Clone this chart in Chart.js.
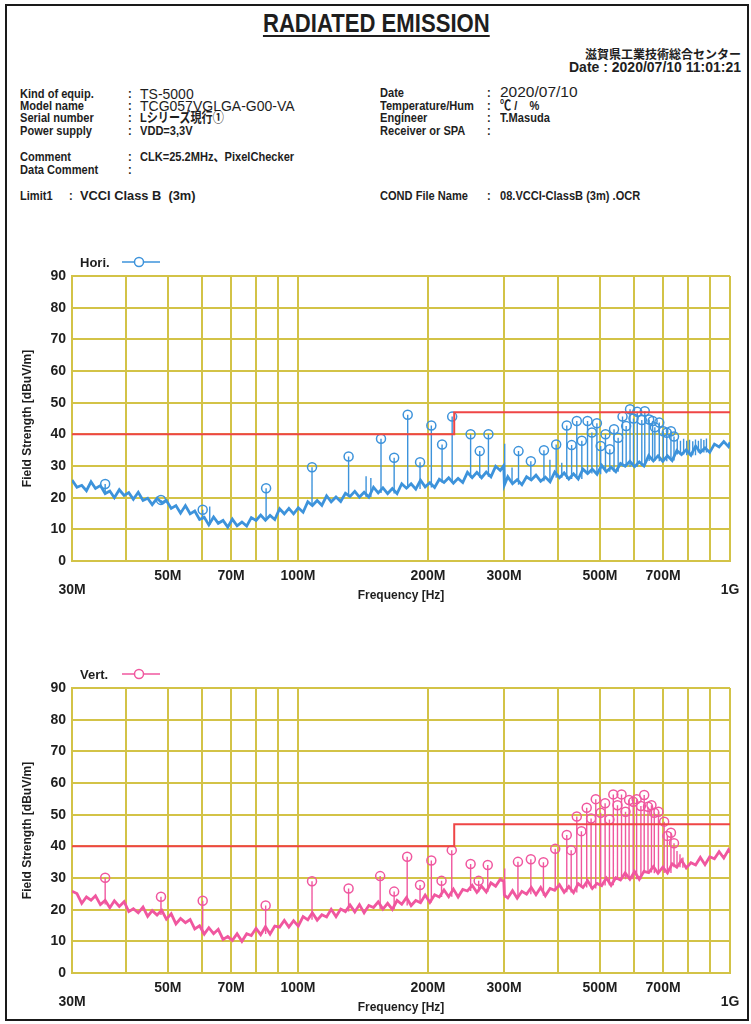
<!DOCTYPE html>
<html>
<head>
<meta charset="utf-8">
<script src="https://cdn.jsdelivr.net/npm/chart.js@4.4.1/dist/chart.umd.min.js"></script>
<style>
  html, body { margin: 0; padding: 0; background: #fff; }
  body { width: 751px; height: 1024px; position: relative; overflow: hidden; }
  #frame { position: absolute; left: 5px; top: 4px; width: 744px; height: 1017px; border: 2px solid #1a1a1a; box-sizing: border-box; z-index: 5; pointer-events: none; }
  .t { position: absolute; white-space: pre; color: #1e1e1e; font: bold 13.5px 'Liberation Sans', Arial, 'Noto Sans CJK JP', sans-serif; line-height: 14px; transform: scaleX(0.82); transform-origin: 0 0; }
  .v { font: 14px 'Liberation Sans', Arial, 'Noto Sans CJK JP', sans-serif; line-height: 14px; transform: none; }
  #title { left: 0; width: 751px; text-align: center; top: 8px; font-size: 26px; line-height: 30px; transform: scaleX(0.85); transform-origin: 381px 0; }
  #title span { text-decoration: underline; text-decoration-thickness: 2px; text-underline-offset: 3px; }
  .r { right: 10px; text-align: right; transform: none; }
  .box { position: absolute; left: 0; width: 751px; height: 366px; }
</style>
</head>
<body>
<div id="frame"></div>

<div class="t" id="title"><span>RADIATED EMISSION</span></div>
<div class="t r" style="top:47px;font-size:12px;font-family:'Noto Sans CJK JP',sans-serif;">滋賀県工業技術総合センター</div>
<div class="t r" style="top:60px;font-size:14px;">Date : 2020/07/10 11:01:21</div>

<div class="t" style="left:20px;top:87px;">Kind of equip.</div>
<div class="t" style="left:20px;top:99px;">Model name</div>
<div class="t" style="left:20px;top:111px;">Serial number</div>
<div class="t" style="left:20px;top:124px;">Power supply</div>
<div class="t" style="left:20px;top:150px;">Comment</div>
<div class="t" style="left:20px;top:163px;">Data Comment</div>
<div class="t" style="left:20px;top:189px;">Limit1</div>
<div class="t" style="left:69px;top:189px;">:</div>
<div class="t" style="left:80px;top:189px;transform:scaleX(0.95);">VCCI Class B  (3m)</div>

<div class="t" style="left:128px;top:87px;">:</div>
<div class="t" style="left:128px;top:99px;">:</div>
<div class="t" style="left:128px;top:111px;">:</div>
<div class="t" style="left:128px;top:124px;">:</div>
<div class="t" style="left:128px;top:150px;">:</div>
<div class="t" style="left:128px;top:163px;">:</div>

<div class="t v" style="left:140px;top:87px;">TS-5000</div>
<div class="t v" style="left:140px;top:99px;">TCG057VGLGA-G00-VA</div>
<div class="t" style="left:140px;top:111px;">Lシリーズ現行①</div>
<div class="t" style="left:140px;top:124px;">VDD=3,3V</div>
<div class="t" style="left:140px;top:150px;">CLK=25.2MHz、PixelChecker</div>

<div class="t" style="left:380px;top:86px;">Date</div>
<div class="t" style="left:380px;top:99px;">Temperature/Hum</div>
<div class="t" style="left:380px;top:111px;">Engineer</div>
<div class="t" style="left:380px;top:124px;">Receiver or SPA</div>
<div class="t" style="left:380px;top:189px;">COND File Name</div>

<div class="t" style="left:487px;top:86px;">:</div>
<div class="t" style="left:487px;top:99px;">:</div>
<div class="t" style="left:487px;top:111px;">:</div>
<div class="t" style="left:487px;top:124px;">:</div>
<div class="t" style="left:487px;top:189px;">:</div>

<div class="t v" style="left:500px;top:85px;font-size:15.5px;">2020/07/10</div>
<div class="t" style="left:500px;top:99px;">℃ /    %</div>
<div class="t" style="left:500px;top:111px;">T.Masuda</div>
<div class="t" style="left:500px;top:189px;">08.VCCI-ClassB (3m) .OCR</div>

<div class="box" style="top:244px;"><canvas id="horiChart"></canvas></div>
<div class="box" style="top:656px;"><canvas id="vertChart"></canvas></div>

<script>
// Sweep frequencies (MHz) used for the noise floor of both polarisations
const floorFreq = [30, 30.8, 31.6, 32.4, 33.2, 34, 34.9, 35.8, 36.7, 37.6, 38.6, 39.6, 40.6, 41.6, 42.7, 43.8, 44.9, 46, 47.2, 48.4,
  49.6, 50.9, 52.2, 53.5, 54.9, 56.3, 57.7, 59.2, 60.7, 62.2, 63.8, 65.4, 67.1, 68.8, 70.5, 72.3, 74.2, 76.1, 78, 80,
  82, 84.1, 86.2, 88.4, 90.7, 93, 95.3, 97.7, 100.2, 102.8, 105.4, 108, 110.8, 113.6, 116.5, 119.4, 122.5, 125.6, 128.8, 132,
  135.4, 138.8, 142.3, 145.9, 149.6, 153.4, 157.3, 161.3, 165.4, 169.6, 173.9, 178.3, 182.8, 187.4, 192.2, 197, 202, 207.2, 212.4, 217.8,
  223.3, 229, 234.8, 240.7, 246.8, 253.1, 259.5, 266.1, 272.8, 279.7, 286.8, 294, 299.5, 300.5, 306, 313.8, 321.7, 329.9, 338.2, 346.8,
  355.6, 364.6, 373.8, 383.3, 393, 403, 413.2, 423.6, 434.4, 445.4, 456.7, 468.2, 480.1, 492.3, 504.7, 517.5, 530.6, 544.1, 557.9, 572,
  586.5, 601.4, 616.6, 632.2, 648.3, 664.7, 681.5, 698.8, 716.5, 734.7, 753.3, 772.4, 792, 812, 832.6, 853.7, 875.3, 897.5, 920.3, 943.6,
  967.5, 992, 1000];

// Noise floor, horizontal (dBuV/m)
const horiFloor = [25.6, 23.3, 23.9, 22.2, 25.0, 22.9, 23.8, 21.3, 22.1, 20.0, 22.5, 20.7, 21.6, 19.5, 21.7, 19.1, 19.8, 17.8, 19.8, 18.4,
  19.1, 16.6, 17.5, 15.1, 17.5, 14.9, 15.8, 13.1, 13.8, 11.4, 13.9, 11.9, 12.8, 10.7, 13.2, 11.1, 12.3, 11.0, 13.7, 12.8,
  14.5, 12.9, 14.4, 13.1, 16.5, 14.9, 16.6, 14.9, 16.8, 15.4, 18.7, 17.5, 19.1, 17.6, 20.6, 18.7, 20.2, 18.8, 21.4, 20.4,
  22.0, 20.2, 21.7, 20.2, 23.3, 21.5, 23.1, 21.3, 22.9, 21.3, 24.4, 23.0, 24.4, 22.7, 25.5, 23.4, 24.7, 23.2, 25.8, 24.8,
  26.3, 24.6, 26.1, 24.8, 28.0, 26.3, 28.0, 26.3, 28.1, 26.6, 29.9, 28.6, 30.1, 24.0, 26.6, 24.4, 25.7, 24.1, 26.6, 25.6,
  27.1, 25.2, 26.5, 25.0, 28.1, 26.3, 27.8, 25.9, 27.5, 25.9, 29.0, 27.6, 29.0, 27.4, 30.2, 28.2, 29.6, 28.2, 30.8, 29.9,
  31.5, 29.8, 31.3, 30.0, 33.3, 31.6, 33.2, 31.5, 33.2, 31.7, 34.9, 33.6, 35.1, 33.4, 36.3, 34.3, 35.7, 34.3, 36.9, 36.0,
  37.7, 36.1, 37.5];

// Noise floor, vertical (dBuV/m)
const vertFloor = [25.8, 25.1, 22.0, 24.0, 23.0, 24.4, 21.6, 22.9, 20.6, 22.8, 21.0, 22.5, 19.4, 20.3, 19.0, 20.8, 17.9, 19.7, 18.3, 19.8,
  17.0, 18.7, 15.5, 17.2, 15.9, 16.9, 13.9, 14.9, 12.3, 14.3, 12.4, 13.8, 10.6, 11.5, 10.3, 12.4, 10.0, 12.4, 11.8, 14.1,
  12.1, 14.6, 12.3, 14.8, 14.5, 16.6, 14.5, 16.5, 14.8, 17.8, 16.8, 19.0, 16.7, 18.4, 17.7, 20.1, 17.8, 20.2, 19.4, 21.5,
  19.3, 21.6, 19.0, 21.3, 20.7, 22.5, 20.2, 22.0, 20.1, 22.9, 21.7, 23.8, 21.3, 22.9, 22.2, 24.6, 22.3, 24.7, 24.0, 26.2,
  24.1, 26.5, 24.0, 26.4, 25.9, 27.7, 25.5, 27.4, 25.6, 28.5, 27.4, 29.6, 28.9, 24.6, 23.7, 26.0, 23.6, 25.8, 24.9, 27.0,
  24.7, 27.0, 24.4, 26.7, 26.1, 27.9, 25.5, 27.3, 25.4, 28.2, 27.0, 29.1, 26.7, 28.3, 27.6, 30.0, 27.7, 30.1, 29.4, 31.6,
  29.6, 32.0, 29.6, 32.1, 31.7, 33.6, 31.5, 33.4, 31.6, 34.5, 33.4, 35.6, 33.2, 34.8, 34.1, 36.5, 34.2, 36.7, 36.1, 38.3,
  36.3, 38.9, 38.0];

// Marked peaks (circle markers), horizontal
const horiPeakFreq = [35.8, 48.2, 60.2, 84.4, 107.8, 131, 155.7, 167, 179.5, 191.7, 203.6, 215.6, 227.5, 251, 263.5, 276,
  324, 346, 371, 396, 419, 430, 442, 454, 468, 479, 492, 502, 515, 527, 539, 551, 564, 575, 587, 598, 610, 625, 635, 650,
  662, 670, 686, 701, 714, 730, 742];
const horiPeakLevel = [24.3, 19.3, 16.2, 23, 29.6, 33, 38.6, 32.6, 46.2, 31.2, 42.8, 36.8, 45.6, 40, 34.7, 40,
  34.7, 31.5, 35, 36.8, 42.8, 36.6, 44.2, 38, 44.2, 40.6, 43.5, 36.3, 40, 35.3, 41.6, 38.9, 45.6, 42.6, 47.9, 45, 47.1, 44.5, 47.3, 44.7,
  44.2, 42.2, 43.7, 41, 40.5, 41, 39.3];
// Unmarked spurs, horizontal
const horiSpurFreq = [62.5, 143.8, 147.5, 301, 313, 383, 408, 755, 768, 781, 794, 806, 820, 832, 845, 857, 870, 882];
const horiSpurLevel = [17.2, 26.8, 26.2, 37, 29.5, 32, 31, 38.5, 38, 38.6, 38, 38.3, 37.8, 38.4, 38, 38.6, 38.2, 38.7];

// Marked peaks, vertical
const vertPeakFreq = [35.8, 48.2, 60.2, 84.2, 107.8, 131, 155, 167, 179, 191.7, 203.6, 215, 227, 251, 262, 275,
  323, 346, 370, 394, 419, 429, 442, 453, 466, 477, 489, 502, 514, 526, 537, 549, 561, 573, 584, 597, 608, 622, 633, 646,
  658, 668, 683, 704, 716, 730, 742];
const vertPeakLevel = [30.1, 24.1, 22.8, 21.3, 29, 26.7, 30.6, 25.7, 36.7, 27.8, 35.5, 29.1, 38.8, 34.4, 29.1, 34.1,
  35.1, 35.9, 35, 39.2, 43.6, 38.8, 49.4, 44.8, 52.2, 48.8, 54.9, 50.6, 53.6, 48.5, 56.4, 53, 56.4, 50.9, 54.6, 54.1, 54.9, 52.7, 56.2, 52.5,
  53, 50.6, 50.9, 47.8, 43.3, 44.3, 41];
// Unmarked spurs, vertical
const vertSpurFreq = [301, 754, 766, 778];
const vertSpurLevel = [33, 38.5, 37.5, 36.5];

// VCCI Class B (3m) limit
const limitFreq = [30, 230, 230, 1000];
const limitLevel = [40, 40, 47, 47];

// Axes
const yTicks = [0, 10, 20, 30, 40, 50, 60, 70, 80, 90];
const xGridFreq = [30, 40, 50, 60, 70, 80, 90, 100, 200, 300, 400, 500, 600, 700, 800, 900, 1000];
const xLabelFreq = [30, 50, 70, 100, 200, 300, 500, 700, 1000];
const xLabelText = ['30M', '50M', '70M', '100M', '200M', '300M', '500M', '700M', '1G'];
const xLowRow = [30, 1000]; // these two sit on the second label row

const GRID = '#d3c347';
const LIMIT = '#ef4646';
const INK = '#1e1e1e';
const FONT = "'Liberation Sans', Arial, sans-serif";

// lowest floor value around a frequency, so a stem starts inside the noise band
function floorAt(vals, f) {
  for (let i = 0; i < floorFreq.length - 1; i++) {
    if (f >= floorFreq[i] && f <= floorFreq[i + 1]) return Math.min(vals[i], vals[i + 1]);
  }
  return vals[vals.length - 1];
}

function stemPoints(freqs, levels, floorVals) {
  const pts = [];
  freqs.forEach((f, i) => {
    pts.push({ x: f, y: floorAt(floorVals, f) }, { x: f, y: levels[i] }, { x: f, y: null });
  });
  return pts;
}

// "Hori. -o-" tag above the plot
const cornerLegend = {
  id: 'cornerLegend',
  afterDraw(chart, args, opts) {
    const ctx = chart.ctx;
    ctx.save();
    ctx.font = 'bold 13px ' + FONT;
    ctx.fillStyle = INK;
    ctx.textBaseline = 'middle';
    ctx.fillText(opts.text, opts.x, opts.y + 1);
    ctx.strokeStyle = opts.color;
    ctx.lineWidth = 1.5;
    ctx.beginPath();
    ctx.moveTo(opts.x + 42, opts.y);
    ctx.lineTo(opts.x + 80, opts.y);
    ctx.stroke();
    ctx.fillStyle = '#fff';
    ctx.beginPath();
    ctx.arc(opts.x + 59, opts.y, 4.5, 0, Math.PI * 2);
    ctx.fill();
    ctx.stroke();
    ctx.restore();
  }
};

function makeChart(id, label, color, floorVals, peakFreq, peakLevel, spurFreq, spurLevel) {
  return new Chart(document.getElementById(id), {
    type: 'line',
    data: {
      datasets: [
        {
          label: 'Limit1',
          data: limitFreq.map((f, i) => ({ x: f, y: limitLevel[i] })),
          borderColor: LIMIT, borderWidth: 2, pointRadius: 0, order: 0
        },
        {
          label: label + ' peaks',
          data: peakFreq.map((f, i) => ({ x: f, y: peakLevel[i] })),
          showLine: false, pointStyle: 'circle', pointRadius: 4.5, pointBorderWidth: 1.5,
          pointBorderColor: color, pointBackgroundColor: 'rgba(0,0,0,0)', order: 1
        },
        {
          label: label + ' stems',
          data: stemPoints(peakFreq, peakLevel, floorVals).concat(stemPoints(spurFreq, spurLevel, floorVals)),
          borderColor: color, borderWidth: 1.4, pointRadius: 0, spanGaps: false, order: 2
        },
        {
          label: label,
          data: floorFreq.map((f, i) => ({ x: f, y: floorVals[i] })),
          borderColor: color, borderWidth: 2.8, pointRadius: 0, order: 3
        }
      ]
    },
    options: {
      responsive: true,
      maintainAspectRatio: false,
      animation: false,
      layout: { padding: { top: 32, right: 21, bottom: 0, left: 0 } },
      plugins: {
        legend: { display: false },
        tooltip: { enabled: false },
        cornerLegend: { text: label, color: color, x: 80, y: 18 }
      },
      scales: {
        x: {
          type: 'logarithmic', min: 30, max: 1000,
          afterBuildTicks: s => { s.ticks = xGridFreq.map(v => ({ value: v })); },
          afterFit: s => { s.height = 49; },
          grid: { color: GRID, lineWidth: 2, drawTicks: false },
          border: { color: GRID, width: 2 },
          ticks: {
            autoSkip: false, maxRotation: 0, padding: 8, color: INK,
            font: { family: FONT, size: 14, weight: 'bold', lineHeight: 1 },
            callback: v => {
              const k = xLabelFreq.indexOf(v);
              if (k < 0) return '';
              return xLowRow.includes(v) ? ['', xLabelText[k]] : xLabelText[k];
            }
          },
          title: {
            display: true, text: 'Frequency [Hz]', color: INK,
            font: { family: FONT, size: 12, weight: 'bold' }, padding: { top: 0, bottom: 7 }
          }
        },
        y: {
          min: 0, max: 90,
          afterBuildTicks: s => { s.ticks = yTicks.map(v => ({ value: v })); },
          afterFit: s => { s.width = 72; },
          grid: { color: GRID, lineWidth: 2, drawTicks: false },
          border: { color: GRID, width: 2 },
          ticks: { padding: 6, color: INK, font: { family: FONT, size: 14, weight: 'bold' } },
          title: {
            display: true, text: 'Field Strength [dBuV/m]', color: INK,
            font: { family: FONT, size: 12, weight: 'bold' }, padding: { top: 20, bottom: 0 }
          }
        }
      }
    },
    plugins: [cornerLegend]
  });
}

makeChart('horiChart', 'Hori.', '#3d93db', horiFloor, horiPeakFreq, horiPeakLevel, horiSpurFreq, horiSpurLevel);
makeChart('vertChart', 'Vert.', '#f0579f', vertFloor, vertPeakFreq, vertPeakLevel, vertSpurFreq, vertSpurLevel);
</script>
</body>
</html>
